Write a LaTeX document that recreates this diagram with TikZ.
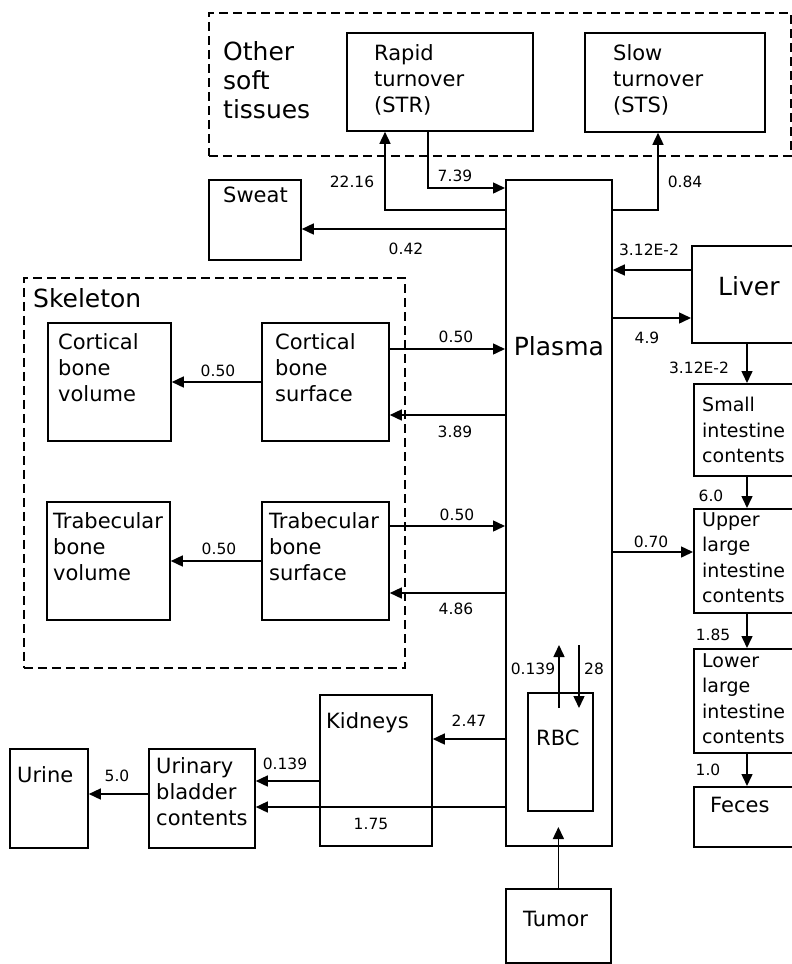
\documentclass[tikz,border=0pt]{standalone}
\usepackage{fontspec}
\setmainfont{DejaVu Sans}
\usetikzlibrary{arrows.meta,positioning}

\begin{document}
\begin{tikzpicture}[x=1pt, y=-1pt,
    box/.style={draw, line width=1.8pt, inner sep=0pt, anchor=north west},
    group/.style={draw, line width=1.5pt, dash pattern=on 9pt off 5pt, inner sep=0pt, anchor=north west},
    boxtext/.style={font=\fontsize{21}{26}\selectfont, align=left, inner sep=0pt, anchor=north west},
    guttext/.style={boxtext, font=\fontsize{19}{25.5}\selectfont},
    bigtext/.style={font=\fontsize{25}{29}\selectfont, align=left, inner sep=0pt},
    rate/.style={font=\fontsize{15.5}{18}\selectfont, inner sep=0pt},
    flow/.style={line width=1.5pt, -{Triangle[length=12pt,width=11pt]}}]
    \useasboundingbox (0,0) rectangle (792,964);
    \node[group, minimum width=582pt, minimum height=143pt] (soft) at (208,12) {};
    \node[bigtext, anchor=north west, below right=29pt and 15pt of soft.north west] (softtext) {Other\\soft\\tissues};
    \node[group, minimum width=381pt, minimum height=390pt] (skel) at (23,277) {};
    \node[bigtext, anchor=north west, below right=11pt and 10pt of skel.north west] (skeltext) {Skeleton};
    \node[box, minimum width=186pt, minimum height=98pt] (str) at (346,32) {};
    \node[boxtext, below right=12pt and 28pt of str.north west] (strtext) {Rapid\\turnover\\(STR)};
    \node[box, minimum width=180pt, minimum height=99pt] (sts) at (584,32) {};
    \node[boxtext, below right=12pt and 29pt of sts.north west] (ststext) {Slow\\turnover\\(STS)};
    \node[box, minimum width=92pt, minimum height=80pt] (sweat) at (208,179) {};
    \node[boxtext, below right=8pt and 15pt of sweat.north west] (sweattext) {Sweat};
    \node[box, minimum width=106pt, minimum height=666pt] (plasma) at (505,179) {};
    \node[bigtext, anchor=north, below=157pt of plasma.north] (plasmatext) {Plasma};
    \node[box, minimum width=102pt, minimum height=97pt] (liver) at (691,245) {};
    \node[bigtext] (livertext) at ([shift={(6,-8)}]liver.center) {Liver};
    \node[box, minimum width=100pt, minimum height=92pt] (si) at (693,383) {};
    \node[guttext, below right=14pt and 9pt of si.north west] (sitext) {Small\\intestine\\contents};
    \node[box, minimum width=100pt, minimum height=104pt] (uli) at (693,508) {};
    \node[guttext, below right=4pt and 9pt of uli.north west] (ulitext) {Upper\\large\\intestine\\contents};
    \node[box, minimum width=100pt, minimum height=104pt] (lli) at (693,648) {};
    \node[guttext, below right=5pt and 9pt of lli.north west] (llitext) {Lower\\large\\intestine\\contents};
    \node[box, minimum width=100pt, minimum height=60pt] (feces) at (693,786) {};
    \node[boxtext, below right=11pt and 17pt of feces.north west] (fecestext) {Feces};
    \node[box, minimum width=123pt, minimum height=118pt] (cbv) at (47,322) {};
    \node[boxtext, below right=11pt and 11pt of cbv.north west] (cbvtext) {Cortical\\bone\\volume};
    \node[box, minimum width=127pt, minimum height=118pt] (cbs) at (261,322) {};
    \node[boxtext, below right=11pt and 14pt of cbs.north west] (cbstext) {Cortical\\bone\\surface};
    \node[box, minimum width=123pt, minimum height=118pt] (tbv) at (46,501) {};
    \node[boxtext, below right=11pt and 7pt of tbv.north west] (tbvtext) {Trabecular\\bone\\volume};
    \node[box, minimum width=127pt, minimum height=118pt] (tbs) at (261,501) {};
    \node[boxtext, below right=11pt and 8pt of tbs.north west] (tbstext) {Trabecular\\bone\\surface};
    \node[box, minimum width=65pt, minimum height=118pt] (rbc) at (527,692) {};
    \node[boxtext, below right=38pt and 9pt of rbc.north west] (rbctext) {RBC};
    \node[box, minimum width=112pt, minimum height=151pt] (kidneys) at (319,694) {};
    \node[boxtext, below right=18pt and 7pt of kidneys.north west] (kidneystext) {Kidneys};
    \node[box, minimum width=106pt, minimum height=99pt] (bladder) at (148,748) {};
    \node[boxtext, below right=9pt and 8pt of bladder.north west] (bladdertext) {Urinary\\bladder\\contents};
    \node[box, minimum width=78pt, minimum height=99pt] (urine) at (9,748) {};
    \node[boxtext, below right=18pt and 8pt of urine.north west] (urinetext) {Urine};
    \node[box, minimum width=105pt, minimum height=74pt] (tumor) at (505,888) {};
    \node[boxtext, below right=23pt and 18pt of tumor.north west] (tumortext) {Tumor};
    \draw[flow] (plasma.west |- 0,210) -| (str.south -| 385,0);
    \draw[flow] (str.south -| 428,0) |- (plasma.west |- 0,188);
    \draw[flow] (plasma.east |- 0,210) -| (sts.south -| 658,0);
    \draw[flow] (plasma.west |- 0,229) -- (sweat.east |- 0,229);
    \draw[flow] (liver.west |- 0,270) -- (plasma.east |- 0,270);
    \draw[flow] (plasma.east |- 0,318) -- (liver.west |- 0,318);
    \draw[flow] (liver.south -| 747,0) -- (si.north -| 747,0);
    \draw[flow] (si.south -| 747,0) -- (uli.north -| 747,0);
    \draw[flow] (uli.south -| 747,0) -- (lli.north -| 747,0);
    \draw[flow] (lli.south -| 747,0) -- (feces.north -| 747,0);
    \draw[flow] (plasma.east |- 0,552) -- (uli.west |- 0,552);
    \draw[flow] (cbs.east |- 0,349) -- (plasma.west |- 0,349);
    \draw[flow] (plasma.west |- 0,415) -- (cbs.east |- 0,415);
    \draw[flow] (cbs.west |- 0,382) -- (cbv.east |- 0,382);
    \draw[flow] (tbs.east |- 0,526) -- (plasma.west |- 0,526);
    \draw[flow] (plasma.west |- 0,593) -- (tbs.east |- 0,593);
    \draw[flow] (tbs.west |- 0,561) -- (tbv.east |- 0,561);
    \draw[flow] (rbc.north -| 559,0) ++(0,16) -- ++(0,-63);
    \draw[flow] (rbc.north -| 579,0) ++(0,-47) -- ++(0,63);
    \draw[flow] (plasma.west |- 0,739) -- (kidneys.east |- 0,739);
    \draw[flow] (kidneys.west |- 0,781) -- (bladder.east |- 0,781);
    \draw[flow] (plasma.west |- 0,807) -- (bladder.east |- 0,807);
    \draw[flow] (bladder.west |- 0,794) -- (urine.east |- 0,794);
    \draw[flow] (tumor.north) -- ++(0,-61);
    \node[rate] (r1) at (352,182) {22.16};
    \node[rate] (r2) at (455,176) {7.39};
    \node[rate] (r3) at (685,182) {0.84};
    \node[rate] (r4) at (406,249) {0.42};
    \node[rate] (r5) at (649,250) {3.12E-2};
    \node[rate] (r6) at (647,338) {4.9};
    \node[rate] (r7) at (699,368) {3.12E-2};
    \node[rate] (r8) at (711,496) {6.0};
    \node[rate] (r9) at (651,542) {0.70};
    \node[rate] (r10) at (713,635) {1.85};
    \node[rate] (r11) at (708,770) {1.0};
    \node[rate] (r12) at (218,371) {0.50};
    \node[rate] (r13) at (456,337) {0.50};
    \node[rate] (r14) at (455,432) {3.89};
    \node[rate] (r15) at (219,549) {0.50};
    \node[rate] (r16) at (457,515) {0.50};
    \node[rate] (r17) at (456,609) {4.86};
    \node[rate] (r18) at (469,721) {2.47};
    \node[rate] (r19) at (285,764) {0.139};
    \node[rate] (r20) at (371,824) {1.75};
    \node[rate] (r21) at (117,776) {5.0};
    \node[rate] (r22) at (533,669) {0.139};
    \node[rate] (r23) at (594,669) {28};
  \end{tikzpicture}
\end{document}
